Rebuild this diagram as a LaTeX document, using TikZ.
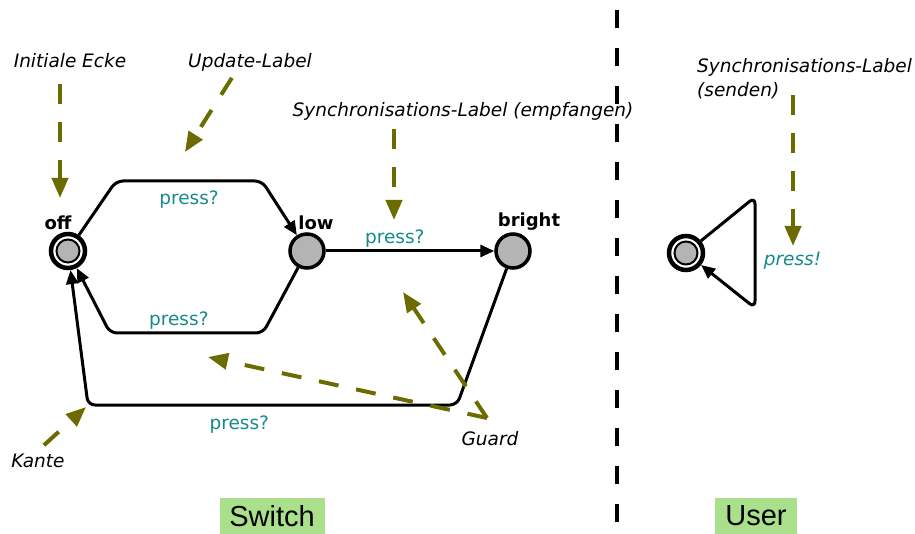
\documentclass[tikz,border=0pt]{standalone}
\usepackage{fontspec}
\setmainfont{DejaVu Sans}
\newfontfamily\tagfont{Liberation Sans}
\usetikzlibrary{positioning, arrows.meta}

\definecolor{hintcol}{RGB}{107,107,0}
\definecolor{msgcol}{RGB}{22,138,138}
\definecolor{tagcol}{RGB}{170,224,140}
\definecolor{statecol}{RGB}{180,180,180}

\tikzset{
  state/.style={circle, draw, line width=3.5pt, fill=statecol, minimum size=34pt, inner sep=0pt},
  initstate/.style={circle, draw, line width=4.5pt, fill=white, minimum size=34pt, inner sep=0pt,
    path picture={\draw [line width=2pt, fill=statecol] (path picture bounding box.center) circle (11.5);}},
  statelbl/.style={font=\bfseries\fontsize{18}{20}\selectfont, inner sep=2pt},
  edge/.style={line width=3pt, rounded corners=7pt, -{Triangle[length=14pt,width=12pt]}},
  msg/.style={text=msgcol, font=\fontsize{18.5}{22}\selectfont},
  hint/.style={hintcol, line width=4pt, dash pattern=on 20pt off 18pt, -{Triangle[length=20pt,width=16pt]}},
  hintlbl/.style={font=\itshape\fontsize{18.5}{24}\selectfont},
  tagbox/.style={fill=tagcol, minimum height=36pt, inner xsep=0pt, font=\tagfont\fontsize{29}{32}\selectfont}
}

\begin{document}
\begin{tikzpicture}[x=1pt,y=-1pt]

\useasboundingbox (0,0) rectangle (915,534);

\node (off) at (68,251) [initstate, label={[statelbl,xshift=-10pt]above:off}] {};
\node (low) at (307,251) [state, label={[statelbl,xshift=9pt]above:low}] {};
\node (bright) at (513,251) [state, label={[statelbl,xshift=16pt]above:bright}] {};
\node (user) at (686,253) [initstate] {};

\draw [edge] (off) -- (116,181) -- node [msg, below=5pt] {press?} (262,181) -- (low);
\draw [edge] (low) -- (263,333) -- node [msg, above=-1pt, pos=0.55] {press?} (110,333) -- (off);
\draw [edge] (low) -- node [msg, above=-1pt, pos=0.41] {press?} (bright);
\draw [edge] (bright) -- (457,405) -- node [msg, below=6pt, pos=0.59] {press?} (88,405) -- (off);
\draw [edge] (user) -- (755,197) -- node [msg, right=4pt, pos=0.57, font=\itshape\fontsize{18.5}{22}\selectfont] {press!} (755,308) -- (user);

\draw [line width=3.5pt, dash pattern=on 18pt off 20pt] (617,10) -- (617,534);

\node (initlbl) at (70,61) [hintlbl] {Initiale Ecke};
\coordinate (initend) at (60,198);
\draw [hint, shorten <=12pt] (initlbl.south -| initend) -- (initend);

\node (updlbl) at (250,62) [hintlbl] {Update-Label};
\coordinate (updend) at (185,152);
\draw [hint, shorten <=4pt] ([xshift=-16pt]updlbl.south) -- (updend);

\node (recvlbl) at (463,111) [hintlbl] {Synchronisations-Label (empfangen)};
\coordinate (recvend) at (394,220);
\draw [hint, shorten <=6pt] (recvlbl.south -| recvend) -- (recvend);

\node (sendlbl) at (697,58) [hintlbl, anchor=north west, align=left, inner sep=0pt] {Synchronisations-Label\\(senden)};
\coordinate (sendstart) at (793,95);
\coordinate (sendend) at (793,246);
\draw [hint] (sendstart) -- (sendend);

\node (guardlbl) at (490,439) [hintlbl] {Guard};
\coordinate (guardpt) at (487,418);
\coordinate (guardup) at (403,292);
\coordinate (guardleft) at (208,357);
\draw [hint] (guardpt) -- (guardup);
\draw [hint] (guardpt) -- (guardleft);

\node (kantelbl) at (38,461) [hintlbl] {Kante};
\coordinate (kanteend) at (86,407);
\draw [hint, shorten <=8pt] (kantelbl.north) -- (kanteend);

\node (switchtag) at (272,516) [tagbox, minimum width=105pt] {Switch};
\node (usertag) at (756,516) [tagbox, minimum width=82pt] {User};

\end{tikzpicture}
\end{document}
